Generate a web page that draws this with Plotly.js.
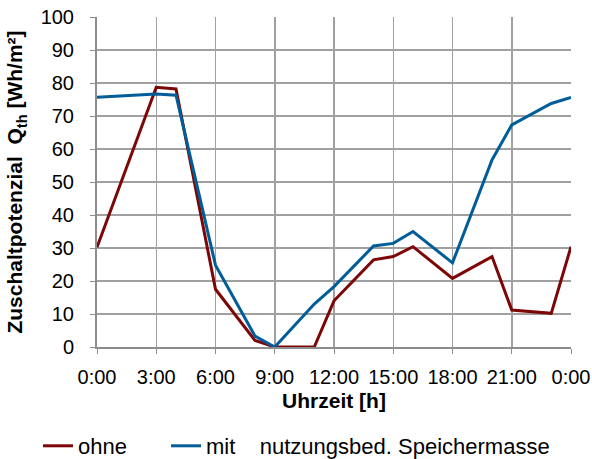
<!DOCTYPE html>
<html>
<head>
<meta charset="utf-8">
<script src="https://cdn.plot.ly/plotly-3.0.1.min.js"></script>
<style>html,body{margin:0;padding:0;background:#fff;}#chart{width:592px;height:459px;}</style>
</head>
<body>
<div id="chart"></div>
<script>
const hours = [0, 3, 4, 6, 8, 9, 11, 12, 14, 15, 16, 18, 20, 21, 23, 24];
const ohne = [30.2, 78.7, 78.2, 17.5, 2, 0, 0, 14, 26.4, 27.4, 30.4, 20.8, 27.4, 11.2, 10.2, 30.4];
const mit = [75.7, 76.7, 76.3, 24.8, 3.3, 0, 13, 18.3, 30.6, 31.4, 35, 25.5, 56.7, 67.3, 73.8, 75.6];
const tickHours = [0, 3, 6, 9, 12, 15, 18, 21, 24];
const tickLabels = ["0:00", "3:00", "6:00", "9:00", "12:00", "15:00", "18:00", "21:00", "0:00"];
const seriesNames = ["ohne", "mit\u00a0\u00a0\u00a0\u00a0nutzungsbed. Speichermasse"];

const font = "Liberation Sans, Arial, sans-serif";
const traces = [
  {x: hours, y: ohne, name: seriesNames[0], mode: "lines", line: {color: "#7d0606", width: 3}, legend: "legend"},
  {x: hours, y: mit, name: seriesNames[1], mode: "lines", line: {color: "#005d98", width: 3}, legend: "legend2"}
];
const legendBase = {orientation: "h", xref: "container", yref: "container", xanchor: "left", yanchor: "middle",
                    y: 13 / 459, font: {family: font, size: 22, color: "#000"}, bgcolor: "rgba(0,0,0,0)"};
const layout = {
  width: 592, height: 459,
  margin: {l: 97, r: 21, t: 17, b: 112},
  paper_bgcolor: "#fff", plot_bgcolor: "#fff",
  font: {family: font, size: 20, color: "#000"},
  showlegend: true,
  legend: Object.assign({}, legendBase, {x: 38 / 592}),
  legend2: Object.assign({}, legendBase, {x: 166 / 592}),
  xaxis: {range: [0, 24], tickvals: tickHours, ticktext: tickLabels, automargin: false,
          showgrid: true, gridcolor: "#a0a0a0", gridwidth: 1.5,
          showline: true, linecolor: "#8c8c8c", linewidth: 2,
          ticks: "outside", ticklen: 5, tickcolor: "#8c8c8c", zeroline: false,
          ticklabelstandoff: 6, tickfont: {family: font, size: 20},
          title: {text: "<b>Uhrzeit [h]</b>", font: {family: font, size: 21}, standoff: 6}},
  yaxis: {range: [0, 100], dtick: 10, automargin: false,
          showgrid: true, gridcolor: "#a0a0a0", gridwidth: 1.5,
          showline: true, linecolor: "#8c8c8c", linewidth: 2,
          ticks: "outside", ticklen: 5, tickcolor: "#8c8c8c", zeroline: false,
          ticklabelstandoff: 12, tickfont: {family: font, size: 20},
          title: {text: "<b>Zuschaltpotenzial\u00a0\u00a0Q<sub>th</sub> [Wh/m²]</b>", font: {family: font, size: 21}, standoff: 12}}
};
Plotly.newPlot("chart", traces, layout, {displayModeBar: false, staticPlot: true});
</script>
</body>
</html>
